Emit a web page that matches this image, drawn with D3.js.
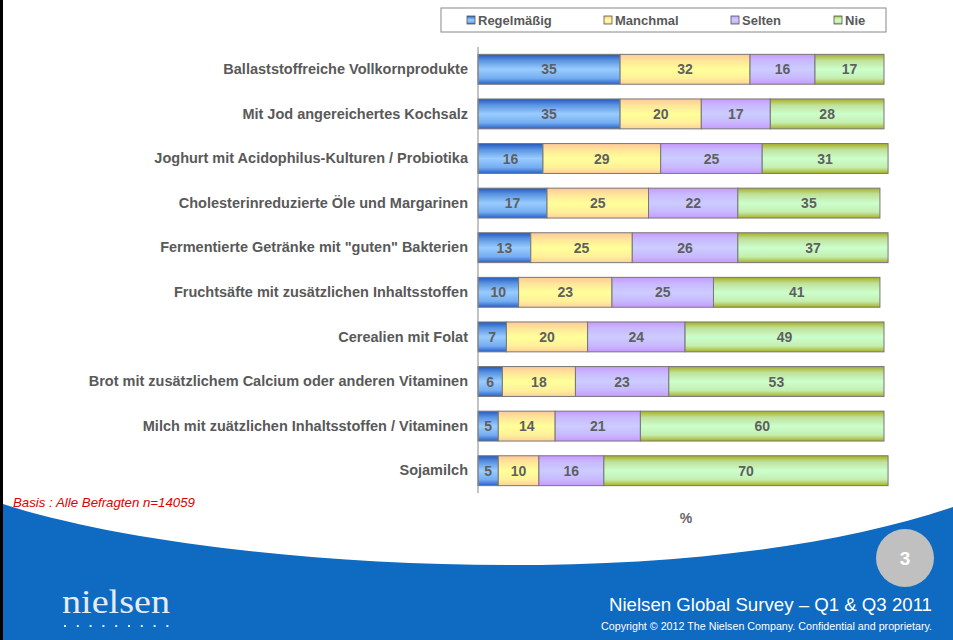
<!DOCTYPE html>
<html><head><meta charset="utf-8">
<script src="https://cdn.jsdelivr.net/npm/d3@7"></script>
<style>body{margin:0;background:#fff}svg{display:block}</style>
</head><body>
<script>
const categories = [
  "Ballaststoffreiche Vollkornprodukte",
  "Mit Jod angereichertes Kochsalz",
  "Joghurt mit Acidophilus-Kulturen / Probiotika",
  "Cholesterinreduzierte Öle und Margarinen",
  "Fermentierte Getränke mit \"guten\" Bakterien",
  "Fruchtsäfte mit zusätzlichen Inhaltsstoffen",
  "Cerealien mit Folat",
  "Brot mit zusätzlichem Calcium oder anderen Vitaminen",
  "Milch mit zuätzlichen Inhaltsstoffen / Vitaminen",
  "Sojamilch"
];
const seriesNames = ["Regelmäßig", "Manchmal", "Selten", "Nie"];
const regelmaessig = [35, 35, 16, 17, 13, 10, 7, 6, 5, 5];
const manchmal     = [32, 20, 29, 25, 25, 23, 20, 18, 14, 10];
const selten       = [16, 17, 25, 22, 26, 25, 24, 23, 21, 16];
const nie          = [17, 28, 31, 35, 37, 41, 49, 53, 60, 70];
const seriesValues = [regelmaessig, manchmal, selten, nie];

const W = 953, H = 640;
const svg = d3.select("body").append("svg").attr("width", W).attr("height", H);
const defs = svg.append("defs");

const grads = [
  ["#2258c0", "#5a94e0", "#99ccff", "#74adf0", "#2a60c8"],
  ["#ffc898", "#ffe49a", "#ffff99", "#fff09a", "#ffd098"],
  ["#c898ff", "#c8b8ff", "#ccccff", "#c8b8ff", "#c898ff"],
  ["#a6ae1e", "#bfe09a", "#ccffcc", "#c4eeb0", "#a8b024"]
];
grads.forEach((g, i) => {
  const lg = defs.append("linearGradient").attr("id", "g" + i)
    .attr("x1", 0).attr("y1", 0).attr("x2", 0).attr("y2", 1);
  [0, 0.2, 0.5, 0.8, 1].forEach((o, j) => lg.append("stop").attr("offset", o).attr("stop-color", g[j]));
});

// left black border
svg.append("rect").attr("x", 0).attr("y", 0).attr("width", 3).attr("height", H).attr("fill", "#000");

// footer wave
svg.append("path")
  .attr("d", "M3,504 C200,568 680,600 953,507 L953,640 L3,640 Z")
  .attr("fill", "#0f6ac2");

const x = d3.scaleLinear().domain([0, 100]).range([478, 884]);
const y = d3.scaleBand().domain(categories).range([47, 493]).paddingInner(0.33).paddingOuter(0.165);

const stack = d3.stack().keys([0, 1, 2, 3]).value((d, k) => seriesValues[k][d]);
const stacked = stack(d3.range(categories.length));

const g = svg.append("g");
stacked.forEach((layer, k) => {
  g.selectAll(null).data(layer).enter().append("rect")
    .attr("x", d => x(d[0]))
    .attr("y", (d, i) => y(categories[i]))
    .attr("width", d => x(d[1]) - x(d[0]))
    .attr("height", y.bandwidth())
    .attr("fill", "url(#g" + k + ")")
    .attr("stroke", "#777").attr("stroke-width", 1);
  g.selectAll(null).data(layer).enter().append("text")
    .attr("x", d => (x(d[0]) + x(d[1])) / 2)
    .attr("y", (d, i) => y(categories[i]) + y.bandwidth() / 2)
    .attr("dy", "0.36em")
    .attr("text-anchor", "middle")
    .attr("font-family", "Liberation Sans, Arial, sans-serif")
    .attr("font-weight", "bold").attr("font-size", 14)
    .attr("fill", "#5f5f5f")
    .text((d, i) => seriesValues[k][i]);
});

// axis
const yAxis = d3.axisLeft(y).tickSize(0).tickPadding(10);
const ax = svg.append("g").attr("transform", "translate(478,0)").call(yAxis);
ax.select(".domain").attr("stroke", "#888").attr("d", "M0,47V493");
ax.selectAll("text").attr("font-family", "Liberation Sans, Arial, sans-serif")
  .attr("font-weight", "bold").attr("font-size", 14.5).attr("fill", "#595959");

// % label
svg.append("text").attr("x", 686).attr("y", 523).attr("text-anchor", "middle")
  .attr("font-family", "Liberation Sans, Arial, sans-serif").attr("font-weight", "bold")
  .attr("font-size", 14).attr("fill", "#666").text("%");

// legend
svg.append("rect").attr("x", 441).attr("y", 8).attr("width", 445).attr("height", 24)
  .attr("fill", "#fff").attr("stroke", "#888").attr("stroke-width", 1);
const legX = [467, 604, 731, 834];
seriesNames.forEach((n, i) => {
  svg.append("rect").attr("x", legX[i]).attr("y", 16).attr("width", 8).attr("height", 8)
    .attr("fill", "url(#g" + i + ")").attr("stroke", "#555").attr("stroke-width", 0.8);
  svg.append("text").attr("x", legX[i] + 11).attr("y", 24.5)
    .attr("font-family", "Liberation Sans, Arial, sans-serif").attr("font-weight", "bold")
    .attr("font-size", 13).attr("fill", "#595959").text(n);
});

// basis note
svg.append("text").attr("x", 13).attr("y", 507)
  .attr("font-family", "Liberation Sans, Arial, sans-serif").attr("font-style", "italic")
  .attr("font-size", 13).attr("fill", "#e00000")
  .attr("textLength", 182).attr("lengthAdjust", "spacingAndGlyphs")
  .text("Basis : Alle Befragten n=14059");

// page circle
svg.append("circle").attr("cx", 905).attr("cy", 558).attr("r", 29).attr("fill", "#c0c0c0");
svg.append("text").attr("x", 905).attr("y", 565).attr("text-anchor", "middle")
  .attr("font-family", "Liberation Sans, Arial, sans-serif").attr("font-weight", "bold")
  .attr("font-size", 19).attr("fill", "#fff").text("3");

// footer texts
svg.append("text").attr("x", 932).attr("y", 611).attr("text-anchor", "end")
  .attr("font-family", "Liberation Sans Narrow, Arial Narrow, Liberation Sans, sans-serif")
  .attr("font-size", 19).attr("fill", "#fff")
  .attr("textLength", 323).attr("lengthAdjust", "spacingAndGlyphs")
  .text("Nielsen Global Survey – Q1 & Q3 2011");
svg.append("text").attr("x", 932).attr("y", 630).attr("text-anchor", "end")
  .attr("font-family", "Liberation Sans Narrow, Arial Narrow, Liberation Sans, sans-serif")
  .attr("font-size", 10.5).attr("fill", "#fff")
  .attr("textLength", 331).attr("lengthAdjust", "spacingAndGlyphs")
  .text("Copyright © 2012 The Nielsen Company. Confidential and proprietary.");

// nielsen logo
svg.append("text").attr("x", 62).attr("y", 613)
  .attr("font-family", "Liberation Serif, DejaVu Serif, serif")
  .attr("font-size", 33).attr("fill", "#e4ecf6")
  .attr("textLength", 108).attr("lengthAdjust", "spacingAndGlyphs").text("nielsen");
d3.range(9).forEach(i => {
  svg.append("rect").attr("x", 64 + i * 12.8).attr("y", 625).attr("width", 2).attr("height", 2).attr("fill", "#e4ecf6");
});
</script>
</body></html>
